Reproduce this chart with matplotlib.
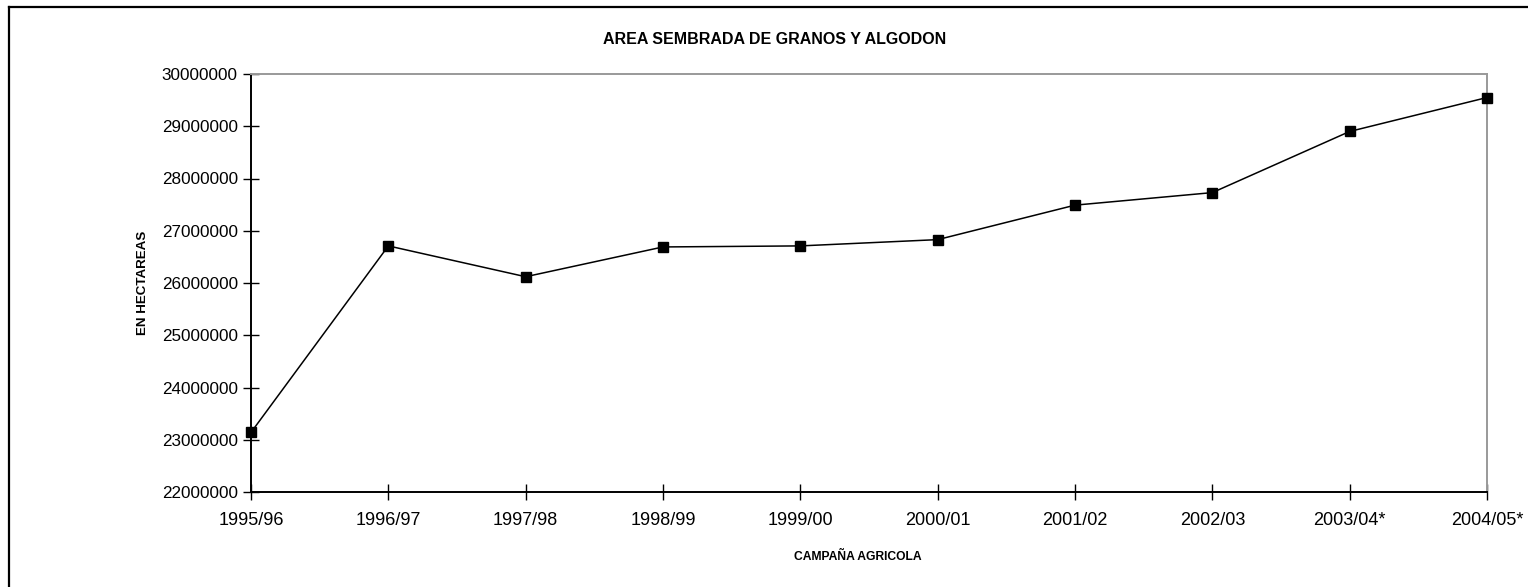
import matplotlib.pyplot as plt
from matplotlib.lines import Line2D

plt.rcParams['font.family'] = ['Liberation Sans', 'DejaVu Sans']

# campañas agricolas y area sembrada (hectareas)
campanas = ['1995/96', '1996/97', '1997/98', '1998/99', '1999/00',
            '2000/01', '2001/02', '2002/03', '2003/04*', '2004/05*']
area = [23140000, 26710000, 26120000, 26690000, 26710000,
        26830000, 27490000, 27730000, 28900000, 29550000]
yticks = list(range(22000000, 30000001, 1000000))

fig = plt.figure(figsize=(15.28, 5.87), dpi=100)
ax = fig.add_axes([251/1528, 1 - 492/587, (1487 - 251)/1528, (492 - 74)/587])

x = list(range(len(campanas)))
ax.plot(x, area, color='black', lw=1.1, marker='s', ms=7.5,
        mfc='black', mec='black', clip_on=False, zorder=3)

ax.set_xlim(0, len(campanas) - 1)
ax.set_ylim(22000000, 30000000)
ax.set_xticks(x)
ax.set_xticklabels(campanas, fontsize=13)
ax.set_yticks(yticks)
ax.set_yticklabels([str(v) for v in yticks], fontsize=12.3)
ax.tick_params(axis='both', direction='inout', length=11, width=1, color='black')
ax.tick_params(axis='x', pad=9)
ax.tick_params(axis='y', pad=4)

for s in ['left', 'bottom']:
    ax.spines[s].set_color('black')
    ax.spines[s].set_linewidth(1.4)
for s in ['top', 'right']:
    ax.spines[s].set_color('#999999')
    ax.spines[s].set_linewidth(1.4)

fig.text(775/1528, 1 - 40/587, 'AREA SEMBRADA DE GRANOS Y ALGODON',
         ha='center', va='center', fontsize=11.5, fontweight='bold')
fig.text(858/1528, 1 - 557/587, 'CAMPAÑA AGRICOLA',
         ha='center', va='center', fontsize=8.7, fontweight='bold')
fig.text(143/1528, 1 - 283/587, 'EN HECTAREAS', rotation=90,
         ha='center', va='center', fontsize=9.6, fontweight='bold')

# marco exterior (solo borde izquierdo y superior visibles)
fig.add_artist(Line2D([8.5/1528, 8.5/1528], [0, 1 - 7/587], color='black',
                      lw=1.6, transform=fig.transFigure))
fig.add_artist(Line2D([8.5/1528, 1], [1 - 7/587, 1 - 7/587], color='black',
                      lw=1.6, transform=fig.transFigure))

fig.savefig('out.png', dpi=100)
